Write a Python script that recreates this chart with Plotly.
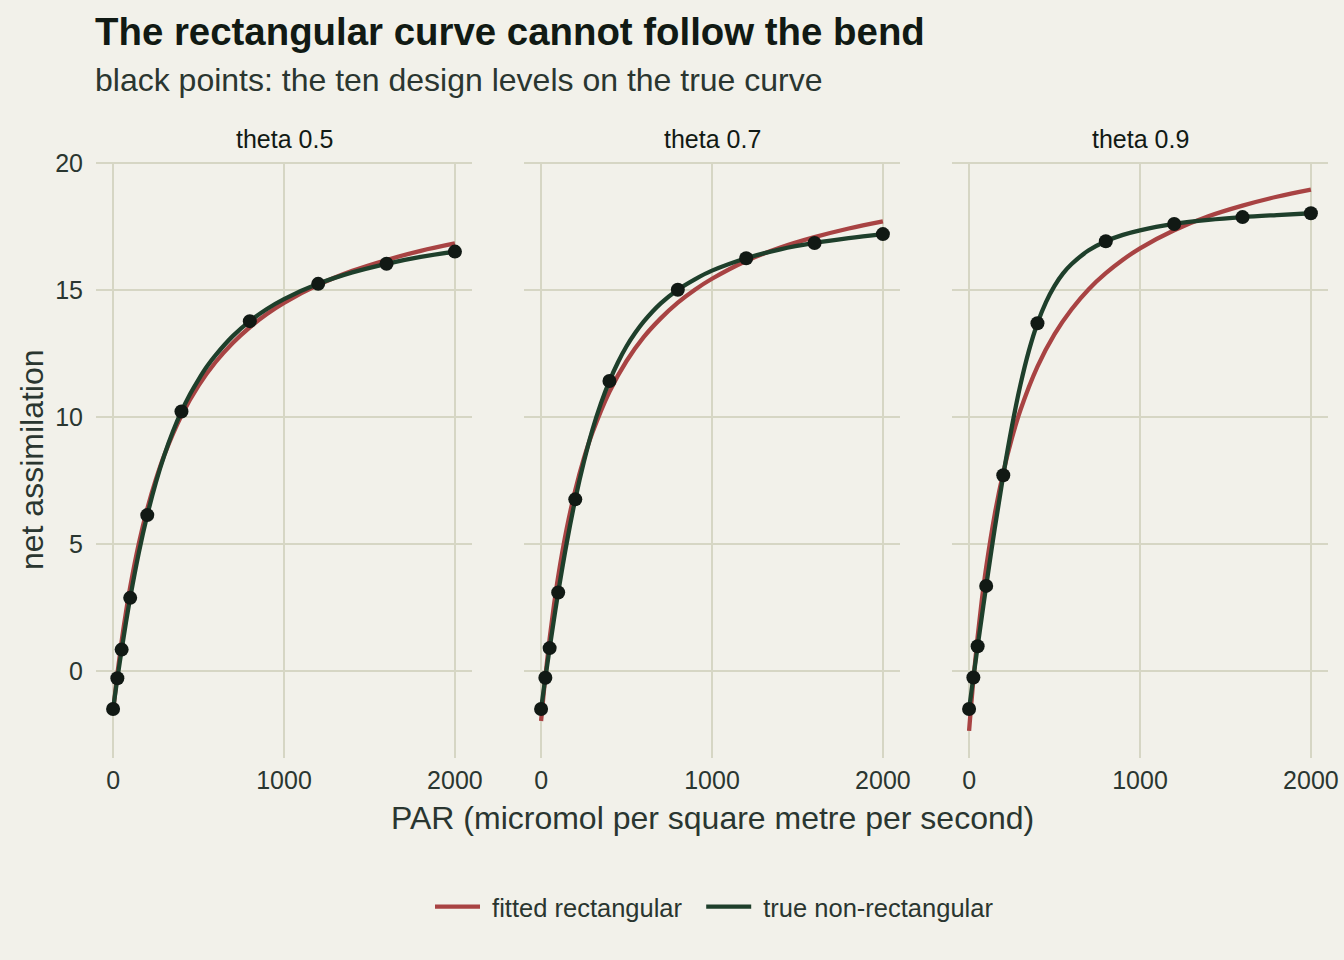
import plotly.graph_objects as go

# PAR levels (micromol m-2 s-1) used for the design points
design_par = [0, 25, 50, 100, 200, 400, 800, 1200, 1600, 2000]

# panel labels
thetas = ["theta 0.5", "theta 0.7", "theta 0.9"]

# black design points in each panel
points = {
    "theta 0.5": [-1.50, -0.29, 0.84, 2.88, 6.14, 10.22, 13.78, 15.25, 16.04, 16.52],
    "theta 0.7": [-1.50, -0.27, 0.90, 3.09, 6.76, 11.42, 15.02, 16.26, 16.86, 17.21],
    "theta 0.9": [-1.50, -0.26, 0.97, 3.35, 7.71, 13.70, 16.93, 17.61, 17.88, 18.03],
}

# x positions where the curves were read
true_par = [0, 25, 50, 75, 100, 150, 200, 250, 300, 350, 400, 450, 500, 550,
            600, 700, 800, 900, 1000, 1200, 1400, 1600, 1800, 2000]
true_curve = {
    "theta 0.5": [-1.50, -0.29, 0.84, 1.90, 2.88, 4.64, 6.14, 7.42, 8.50, 9.43,
                  10.22, 10.90, 11.48, 12.00, 12.44, 13.19, 13.78, 14.26, 14.65,
                  15.25, 15.70, 16.04, 16.31, 16.52],
    "theta 0.7": [-1.50, -0.27, 0.90, 2.02, 3.09, 5.05, 6.76, 8.23, 9.49, 10.54,
                  11.42, 12.16, 12.79, 13.31, 13.76, 14.48, 15.02, 15.43, 15.77,
                  16.26, 16.61, 16.86, 17.05, 17.21],
    "theta 0.9": [-1.50, -0.26, 0.97, 2.17, 3.35, 5.61, 7.71, 9.61, 11.26, 12.62,
                  13.70, 14.53, 15.17, 15.66, 16.03, 16.57, 16.93, 17.18, 17.36,
                  17.61, 17.77, 17.88, 17.96, 18.03],
}

fit_par = [0, 25, 50, 75, 100, 150, 200, 250, 300, 400, 500, 600, 700, 800,
           900, 1000, 1200, 1400, 1600, 1800, 2000]
fit_curve = {
    "theta 0.5": [-1.60, -0.12, 1.17, 2.30, 3.30, 5.00, 6.39, 7.54, 8.51, 10.06,
                  11.24, 12.17, 12.92, 13.54, 14.06, 14.50, 15.21, 15.76, 16.19,
                  16.55, 16.84],
    "theta 0.7": [-1.97, -0.22, 1.28, 2.58, 3.72, 5.61, 7.12, 8.36, 9.38, 11.00,
                  12.21, 13.15, 13.89, 14.51, 15.02, 15.45, 16.15, 16.68, 17.09,
                  17.43, 17.71],
    "theta 0.9": [-2.36, -0.35, 1.35, 2.82, 4.08, 6.17, 7.82, 9.16, 10.27, 11.99,
                  13.27, 14.25, 15.04, 15.67, 16.20, 16.65, 17.36, 17.91, 18.33,
                  18.68, 18.96],
}

BG = "#F2F1EA"
GRID = "#D6D6C4"
RED = "#A84343"
GREEN = "#1E3F2B"
DOT = "#111914"
INK = "#111A14"
TEXT = "#2A3630"
FONT = "Liberation Sans, Arial, Helvetica, sans-serif"

W, H = 1344, 960
# panel pixel boxes (left, right) and common top/bottom
panels_px = [(96, 472), (524, 900), (952, 1328)]
top_px, bottom_px = 162, 758

fig = go.Figure()

for i, th in enumerate(thetas):
    ax = "" if i == 0 else str(i + 1)
    fig.add_trace(go.Scatter(
        x=fit_par, y=fit_curve[th], mode="lines", line_shape="spline",
        line=dict(color=RED, width=4.3),
        name="\u00a0fitted rectangular\u00a0\u00a0",
        legendgroup="fit", showlegend=(i == 0),
        xaxis="x" + ax, yaxis="y" + ax, hoverinfo="skip"))
    fig.add_trace(go.Scatter(
        x=true_par, y=true_curve[th], mode="lines", line_shape="spline",
        line=dict(color=GREEN, width=4.3), name="\u00a0true non-rectangular",
        legendgroup="true", showlegend=(i == 0),
        xaxis="x" + ax, yaxis="y" + ax, hoverinfo="skip"))
    fig.add_trace(go.Scatter(
        x=design_par, y=points[th], mode="markers",
        marker=dict(color=DOT, size=14), showlegend=False,
        xaxis="x" + ax, yaxis="y" + ax))

axis_common = dict(
    showgrid=True, gridcolor=GRID, gridwidth=1.6, zeroline=False,
    showline=False, ticks="", automargin=False,
    tickfont=dict(family=FONT, size=25, color=TEXT),
)

layout = dict(
    width=W, height=H,
    paper_bgcolor=BG, plot_bgcolor=BG,
    margin=dict(l=0, r=0, t=0, b=0, autoexpand=False),
    font=dict(family=FONT, color=TEXT),
    showlegend=True,
    legend=dict(orientation="h", x=430 / W, xanchor="left",
                y=1 - 907 / H, yanchor="middle",
                font=dict(family=FONT, size=25.5, color=TEXT),
                bgcolor="rgba(0,0,0,0)", itemwidth=45),
)

ydom = [1 - bottom_px / H, 1 - top_px / H]
for i, (l, r) in enumerate(panels_px):
    ax = "" if i == 0 else str(i + 1)
    layout["xaxis" + ax] = dict(axis_common, domain=[l / W, r / W],
                                range=[-100, 2100], tickvals=[0, 1000, 2000],
                                ticklabelstandoff=5, anchor="y" + ax)
    layout["yaxis" + ax] = dict(axis_common, domain=ydom,
                                range=[-3.43, 20.05], tickvals=[0, 5, 10, 15, 20],
                                ticklabelstandoff=12,
                                showticklabels=(i == 0), anchor="x" + ax)
    if i > 0:
        layout["yaxis" + ax]["matches"] = "y"

fig.update_layout(**layout)

annotations = [
    dict(text="<b>The rectangular curve cannot follow the bend</b>",
         x=93 / W, y=1 - 32 / H, xanchor="left", yanchor="middle",
         font=dict(family=FONT, size=38.4, color=INK)),
    dict(text="black points: the ten design levels on the true curve",
         x=93 / W, y=1 - 80 / H, xanchor="left", yanchor="middle",
         font=dict(family=FONT, size=32, color=TEXT)),
    dict(text="net assimilation", x=32 / W, y=1 - 460 / H, textangle=-90,
         xanchor="center", yanchor="middle",
         font=dict(family=FONT, size=32, color=TEXT)),
    dict(text="PAR (micromol per square metre per second)",
         x=712 / W, y=1 - 818 / H, xanchor="center", yanchor="middle",
         font=dict(family=FONT, size=32, color=TEXT)),
]
for th, (l, r) in zip(thetas, panels_px):
    annotations.append(dict(text=th, x=(l + r) / 2 / W, y=1 - 139 / H,
                            xanchor="center", yanchor="middle",
                            font=dict(family=FONT, size=25, color=INK)))
for a in annotations:
    a.update(xref="paper", yref="paper", showarrow=False)
fig.update_layout(annotations=annotations)

# drop the page's default 8px body margin so the figure fills the window
fig.write_html("out.html", config={"displayModeBar": False},
               post_script="document.body.style.margin='0';")
